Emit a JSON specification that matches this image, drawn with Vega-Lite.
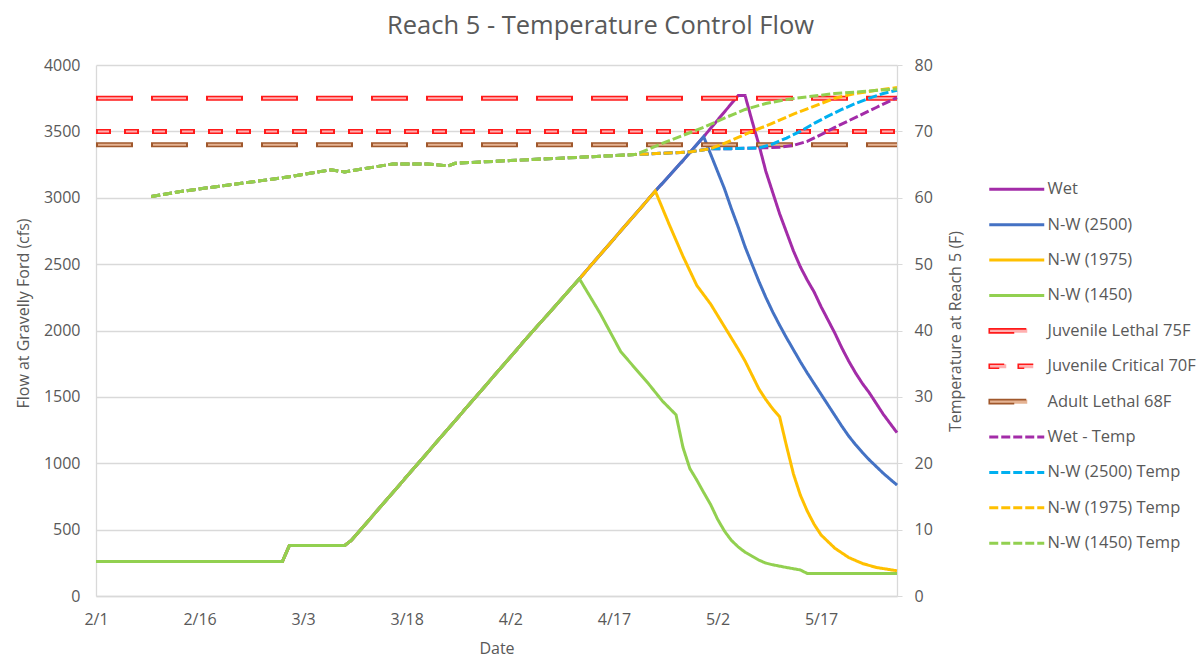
{
  "$schema": "https://vega.github.io/schema/vega-lite/v6.json",
  "width": 801,
  "height": 531,
  "autosize": {"type": "none"},
  "padding": {"left": 96, "top": 65, "right": 304, "bottom": 60},
  "title": {"text": "Reach 5 - Temperature Control Flow", "font": "Open Sans", "fontSize": 25.5, "fontWeight": "normal", "color": "#595959", "anchor": "middle", "frame": "group", "dx": 104, "offset": 18},
  "config": {
    "view": {"stroke": null},
    "axis": {"labelFont": "Open Sans", "labelFontSize": 16, "labelColor": "#595959", "titleFont": "Open Sans", "titleFontSize": 16, "titleColor": "#595959", "titleFontWeight": "normal", "domainColor": "#d9d9d9", "tickColor": "#d9d9d9", "gridColor": "#d9d9d9", "domainWidth": 1.3, "gridWidth": 1.3}
  },
  "datasets": {
    "flow": [
      {"s": "Wet", "d": "2019-02-01", "v": 260}, {"s": "Wet", "d": "2019-02-28", "v": 260}, {"s": "Wet", "d": "2019-03-01", "v": 380}, {"s": "Wet", "d": "2019-03-09", "v": 380}, {"s": "Wet", "d": "2019-03-10", "v": 420}, {"s": "Wet", "d": "2019-03-18", "v": 900}, {"s": "Wet", "d": "2019-03-28", "v": 1500}, {"s": "Wet", "d": "2019-04-04", "v": 1920}, {"s": "Wet", "d": "2019-04-12", "v": 2390}, {"s": "Wet", "d": "2019-04-17", "v": 2690}, {"s": "Wet", "d": "2019-04-23", "v": 3050}, {"s": "Wet", "d": "2019-04-27", "v": 3280}, {"s": "Wet", "d": "2019-04-30", "v": 3460}, {"s": "Wet", "d": "2019-05-05", "v": 3770}, {"s": "Wet", "d": "2019-05-06", "v": 3770}, {"s": "Wet", "d": "2019-05-07", "v": 3580}, {"s": "Wet", "d": "2019-05-08", "v": 3400}, {"s": "Wet", "d": "2019-05-09", "v": 3200}, {"s": "Wet", "d": "2019-05-10", "v": 3040}, {"s": "Wet", "d": "2019-05-11", "v": 2880}, {"s": "Wet", "d": "2019-05-12", "v": 2740}, {"s": "Wet", "d": "2019-05-13", "v": 2600}, {"s": "Wet", "d": "2019-05-14", "v": 2480}, {"s": "Wet", "d": "2019-05-15", "v": 2380}, {"s": "Wet", "d": "2019-05-16", "v": 2290}, {"s": "Wet", "d": "2019-05-17", "v": 2180}, {"s": "Wet", "d": "2019-05-18", "v": 2080}, {"s": "Wet", "d": "2019-05-19", "v": 1980}, {"s": "Wet", "d": "2019-05-20", "v": 1870}, {"s": "Wet", "d": "2019-05-21", "v": 1770}, {"s": "Wet", "d": "2019-05-22", "v": 1680}, {"s": "Wet", "d": "2019-05-23", "v": 1600}, {"s": "Wet", "d": "2019-05-24", "v": 1530}, {"s": "Wet", "d": "2019-05-25", "v": 1450}, {"s": "Wet", "d": "2019-05-26", "v": 1370}, {"s": "Wet", "d": "2019-05-27", "v": 1300}, {"s": "Wet", "d": "2019-05-28", "v": 1230},
      {"s": "N-W (2500)", "d": "2019-02-01", "v": 260}, {"s": "N-W (2500)", "d": "2019-02-28", "v": 260}, {"s": "N-W (2500)", "d": "2019-03-01", "v": 380}, {"s": "N-W (2500)", "d": "2019-03-09", "v": 380}, {"s": "N-W (2500)", "d": "2019-03-10", "v": 420}, {"s": "N-W (2500)", "d": "2019-03-18", "v": 900}, {"s": "N-W (2500)", "d": "2019-03-28", "v": 1500}, {"s": "N-W (2500)", "d": "2019-04-04", "v": 1920}, {"s": "N-W (2500)", "d": "2019-04-12", "v": 2390}, {"s": "N-W (2500)", "d": "2019-04-17", "v": 2690}, {"s": "N-W (2500)", "d": "2019-04-23", "v": 3050}, {"s": "N-W (2500)", "d": "2019-04-27", "v": 3280}, {"s": "N-W (2500)", "d": "2019-04-30", "v": 3460}, {"s": "N-W (2500)", "d": "2019-05-01", "v": 3330}, {"s": "N-W (2500)", "d": "2019-05-02", "v": 3200}, {"s": "N-W (2500)", "d": "2019-05-03", "v": 3070}, {"s": "N-W (2500)", "d": "2019-05-04", "v": 2920}, {"s": "N-W (2500)", "d": "2019-05-05", "v": 2780}, {"s": "N-W (2500)", "d": "2019-05-06", "v": 2630}, {"s": "N-W (2500)", "d": "2019-05-07", "v": 2500}, {"s": "N-W (2500)", "d": "2019-05-08", "v": 2370}, {"s": "N-W (2500)", "d": "2019-05-09", "v": 2250}, {"s": "N-W (2500)", "d": "2019-05-10", "v": 2140}, {"s": "N-W (2500)", "d": "2019-05-11", "v": 2040}, {"s": "N-W (2500)", "d": "2019-05-12", "v": 1945}, {"s": "N-W (2500)", "d": "2019-05-13", "v": 1855}, {"s": "N-W (2500)", "d": "2019-05-14", "v": 1765}, {"s": "N-W (2500)", "d": "2019-05-15", "v": 1680}, {"s": "N-W (2500)", "d": "2019-05-16", "v": 1600}, {"s": "N-W (2500)", "d": "2019-05-17", "v": 1520}, {"s": "N-W (2500)", "d": "2019-05-18", "v": 1440}, {"s": "N-W (2500)", "d": "2019-05-19", "v": 1360}, {"s": "N-W (2500)", "d": "2019-05-20", "v": 1280}, {"s": "N-W (2500)", "d": "2019-05-21", "v": 1205}, {"s": "N-W (2500)", "d": "2019-05-22", "v": 1140}, {"s": "N-W (2500)", "d": "2019-05-23", "v": 1080}, {"s": "N-W (2500)", "d": "2019-05-24", "v": 1025}, {"s": "N-W (2500)", "d": "2019-05-25", "v": 975}, {"s": "N-W (2500)", "d": "2019-05-26", "v": 925}, {"s": "N-W (2500)", "d": "2019-05-27", "v": 880}, {"s": "N-W (2500)", "d": "2019-05-28", "v": 836},
      {"s": "N-W (1975)", "d": "2019-02-01", "v": 260}, {"s": "N-W (1975)", "d": "2019-02-28", "v": 260}, {"s": "N-W (1975)", "d": "2019-03-01", "v": 380}, {"s": "N-W (1975)", "d": "2019-03-09", "v": 380}, {"s": "N-W (1975)", "d": "2019-03-10", "v": 420}, {"s": "N-W (1975)", "d": "2019-03-18", "v": 900}, {"s": "N-W (1975)", "d": "2019-03-28", "v": 1500}, {"s": "N-W (1975)", "d": "2019-04-04", "v": 1920}, {"s": "N-W (1975)", "d": "2019-04-12", "v": 2390}, {"s": "N-W (1975)", "d": "2019-04-17", "v": 2690}, {"s": "N-W (1975)", "d": "2019-04-23", "v": 3050}, {"s": "N-W (1975)", "d": "2019-04-25", "v": 2800}, {"s": "N-W (1975)", "d": "2019-04-27", "v": 2560}, {"s": "N-W (1975)", "d": "2019-04-29", "v": 2340}, {"s": "N-W (1975)", "d": "2019-05-01", "v": 2200}, {"s": "N-W (1975)", "d": "2019-05-03", "v": 2030}, {"s": "N-W (1975)", "d": "2019-05-05", "v": 1860}, {"s": "N-W (1975)", "d": "2019-05-06", "v": 1770}, {"s": "N-W (1975)", "d": "2019-05-08", "v": 1560}, {"s": "N-W (1975)", "d": "2019-05-09", "v": 1480}, {"s": "N-W (1975)", "d": "2019-05-10", "v": 1410}, {"s": "N-W (1975)", "d": "2019-05-11", "v": 1350}, {"s": "N-W (1975)", "d": "2019-05-12", "v": 1130}, {"s": "N-W (1975)", "d": "2019-05-13", "v": 920}, {"s": "N-W (1975)", "d": "2019-05-14", "v": 760}, {"s": "N-W (1975)", "d": "2019-05-15", "v": 640}, {"s": "N-W (1975)", "d": "2019-05-16", "v": 540}, {"s": "N-W (1975)", "d": "2019-05-17", "v": 460}, {"s": "N-W (1975)", "d": "2019-05-19", "v": 360}, {"s": "N-W (1975)", "d": "2019-05-21", "v": 290}, {"s": "N-W (1975)", "d": "2019-05-23", "v": 245}, {"s": "N-W (1975)", "d": "2019-05-25", "v": 215}, {"s": "N-W (1975)", "d": "2019-05-28", "v": 190},
      {"s": "N-W (1450)", "d": "2019-02-01", "v": 260}, {"s": "N-W (1450)", "d": "2019-02-28", "v": 260}, {"s": "N-W (1450)", "d": "2019-03-01", "v": 380}, {"s": "N-W (1450)", "d": "2019-03-09", "v": 380}, {"s": "N-W (1450)", "d": "2019-03-10", "v": 420}, {"s": "N-W (1450)", "d": "2019-03-18", "v": 900}, {"s": "N-W (1450)", "d": "2019-03-28", "v": 1500}, {"s": "N-W (1450)", "d": "2019-04-04", "v": 1920}, {"s": "N-W (1450)", "d": "2019-04-12", "v": 2390}, {"s": "N-W (1450)", "d": "2019-04-15", "v": 2130}, {"s": "N-W (1450)", "d": "2019-04-18", "v": 1840}, {"s": "N-W (1450)", "d": "2019-04-20", "v": 1720}, {"s": "N-W (1450)", "d": "2019-04-22", "v": 1600}, {"s": "N-W (1450)", "d": "2019-04-24", "v": 1470}, {"s": "N-W (1450)", "d": "2019-04-26", "v": 1365}, {"s": "N-W (1450)", "d": "2019-04-27", "v": 1120}, {"s": "N-W (1450)", "d": "2019-04-28", "v": 960}, {"s": "N-W (1450)", "d": "2019-04-29", "v": 874}, {"s": "N-W (1450)", "d": "2019-04-30", "v": 780}, {"s": "N-W (1450)", "d": "2019-05-01", "v": 690}, {"s": "N-W (1450)", "d": "2019-05-02", "v": 580}, {"s": "N-W (1450)", "d": "2019-05-03", "v": 490}, {"s": "N-W (1450)", "d": "2019-05-04", "v": 420}, {"s": "N-W (1450)", "d": "2019-05-05", "v": 370}, {"s": "N-W (1450)", "d": "2019-05-06", "v": 330}, {"s": "N-W (1450)", "d": "2019-05-07", "v": 300}, {"s": "N-W (1450)", "d": "2019-05-08", "v": 270}, {"s": "N-W (1450)", "d": "2019-05-09", "v": 248}, {"s": "N-W (1450)", "d": "2019-05-10", "v": 235}, {"s": "N-W (1450)", "d": "2019-05-12", "v": 215}, {"s": "N-W (1450)", "d": "2019-05-14", "v": 196}, {"s": "N-W (1450)", "d": "2019-05-15", "v": 170}, {"s": "N-W (1450)", "d": "2019-05-28", "v": 170}
    ],
    "thr": [
      {"s": "Juvenile Lethal 75F", "d": "2019-02-01", "v": 75}, {"s": "Juvenile Lethal 75F", "d": "2019-05-28", "v": 75},
      {"s": "Juvenile Critical 70F", "d": "2019-02-01", "v": 70}, {"s": "Juvenile Critical 70F", "d": "2019-05-28", "v": 70},
      {"s": "Adult Lethal 68F", "d": "2019-02-01", "v": 68}, {"s": "Adult Lethal 68F", "d": "2019-05-28", "v": 68}
    ],
    "temp": [
      {"s": "Wet - Temp", "d": "2019-02-09", "v": 60.2}, {"s": "Wet - Temp", "d": "2019-02-13", "v": 60.9}, {"s": "Wet - Temp", "d": "2019-02-20", "v": 61.9}, {"s": "Wet - Temp", "d": "2019-02-28", "v": 63.0}, {"s": "Wet - Temp", "d": "2019-03-07", "v": 64.2}, {"s": "Wet - Temp", "d": "2019-03-09", "v": 63.9}, {"s": "Wet - Temp", "d": "2019-03-12", "v": 64.4}, {"s": "Wet - Temp", "d": "2019-03-16", "v": 65.1}, {"s": "Wet - Temp", "d": "2019-03-21", "v": 65.1}, {"s": "Wet - Temp", "d": "2019-03-24", "v": 64.8}, {"s": "Wet - Temp", "d": "2019-03-25", "v": 65.2}, {"s": "Wet - Temp", "d": "2019-04-02", "v": 65.6}, {"s": "Wet - Temp", "d": "2019-04-12", "v": 66.1}, {"s": "Wet - Temp", "d": "2019-04-20", "v": 66.5}, {"s": "Wet - Temp", "d": "2019-04-24", "v": 66.7}, {"s": "Wet - Temp", "d": "2019-04-28", "v": 66.9}, {"s": "Wet - Temp", "d": "2019-05-01", "v": 67.4}, {"s": "Wet - Temp", "d": "2019-05-04", "v": 67.4}, {"s": "Wet - Temp", "d": "2019-05-08", "v": 67.5}, {"s": "Wet - Temp", "d": "2019-05-11", "v": 67.6}, {"s": "Wet - Temp", "d": "2019-05-13", "v": 67.9}, {"s": "Wet - Temp", "d": "2019-05-15", "v": 68.5}, {"s": "Wet - Temp", "d": "2019-05-17", "v": 69.5}, {"s": "Wet - Temp", "d": "2019-05-19", "v": 70.6}, {"s": "Wet - Temp", "d": "2019-05-21", "v": 71.6}, {"s": "Wet - Temp", "d": "2019-05-23", "v": 72.6}, {"s": "Wet - Temp", "d": "2019-05-25", "v": 73.6}, {"s": "Wet - Temp", "d": "2019-05-28", "v": 75.1},
      {"s": "N-W (2500) Temp", "d": "2019-02-09", "v": 60.2}, {"s": "N-W (2500) Temp", "d": "2019-02-13", "v": 60.9}, {"s": "N-W (2500) Temp", "d": "2019-02-20", "v": 61.9}, {"s": "N-W (2500) Temp", "d": "2019-02-28", "v": 63.0}, {"s": "N-W (2500) Temp", "d": "2019-03-07", "v": 64.2}, {"s": "N-W (2500) Temp", "d": "2019-03-09", "v": 63.9}, {"s": "N-W (2500) Temp", "d": "2019-03-12", "v": 64.4}, {"s": "N-W (2500) Temp", "d": "2019-03-16", "v": 65.1}, {"s": "N-W (2500) Temp", "d": "2019-03-21", "v": 65.1}, {"s": "N-W (2500) Temp", "d": "2019-03-24", "v": 64.8}, {"s": "N-W (2500) Temp", "d": "2019-03-25", "v": 65.2}, {"s": "N-W (2500) Temp", "d": "2019-04-02", "v": 65.6}, {"s": "N-W (2500) Temp", "d": "2019-04-12", "v": 66.1}, {"s": "N-W (2500) Temp", "d": "2019-04-20", "v": 66.5}, {"s": "N-W (2500) Temp", "d": "2019-04-24", "v": 66.7}, {"s": "N-W (2500) Temp", "d": "2019-04-28", "v": 66.9}, {"s": "N-W (2500) Temp", "d": "2019-05-01", "v": 67.4}, {"s": "N-W (2500) Temp", "d": "2019-05-04", "v": 67.4}, {"s": "N-W (2500) Temp", "d": "2019-05-08", "v": 67.5}, {"s": "N-W (2500) Temp", "d": "2019-05-10", "v": 68.1}, {"s": "N-W (2500) Temp", "d": "2019-05-12", "v": 69.0}, {"s": "N-W (2500) Temp", "d": "2019-05-14", "v": 70.0}, {"s": "N-W (2500) Temp", "d": "2019-05-16", "v": 71.2}, {"s": "N-W (2500) Temp", "d": "2019-05-18", "v": 72.3}, {"s": "N-W (2500) Temp", "d": "2019-05-20", "v": 73.3}, {"s": "N-W (2500) Temp", "d": "2019-05-22", "v": 74.2}, {"s": "N-W (2500) Temp", "d": "2019-05-24", "v": 75.0}, {"s": "N-W (2500) Temp", "d": "2019-05-26", "v": 75.7}, {"s": "N-W (2500) Temp", "d": "2019-05-28", "v": 76.2},
      {"s": "N-W (1975) Temp", "d": "2019-02-09", "v": 60.2}, {"s": "N-W (1975) Temp", "d": "2019-02-13", "v": 60.9}, {"s": "N-W (1975) Temp", "d": "2019-02-20", "v": 61.9}, {"s": "N-W (1975) Temp", "d": "2019-02-28", "v": 63.0}, {"s": "N-W (1975) Temp", "d": "2019-03-07", "v": 64.2}, {"s": "N-W (1975) Temp", "d": "2019-03-09", "v": 63.9}, {"s": "N-W (1975) Temp", "d": "2019-03-12", "v": 64.4}, {"s": "N-W (1975) Temp", "d": "2019-03-16", "v": 65.1}, {"s": "N-W (1975) Temp", "d": "2019-03-21", "v": 65.1}, {"s": "N-W (1975) Temp", "d": "2019-03-24", "v": 64.8}, {"s": "N-W (1975) Temp", "d": "2019-03-25", "v": 65.2}, {"s": "N-W (1975) Temp", "d": "2019-04-02", "v": 65.6}, {"s": "N-W (1975) Temp", "d": "2019-04-12", "v": 66.1}, {"s": "N-W (1975) Temp", "d": "2019-04-20", "v": 66.5}, {"s": "N-W (1975) Temp", "d": "2019-04-24", "v": 66.7}, {"s": "N-W (1975) Temp", "d": "2019-04-28", "v": 66.9}, {"s": "N-W (1975) Temp", "d": "2019-05-01", "v": 67.4}, {"s": "N-W (1975) Temp", "d": "2019-05-03", "v": 68.2}, {"s": "N-W (1975) Temp", "d": "2019-05-05", "v": 69.1}, {"s": "N-W (1975) Temp", "d": "2019-05-07", "v": 70.0}, {"s": "N-W (1975) Temp", "d": "2019-05-09", "v": 70.8}, {"s": "N-W (1975) Temp", "d": "2019-05-11", "v": 71.7}, {"s": "N-W (1975) Temp", "d": "2019-05-13", "v": 72.6}, {"s": "N-W (1975) Temp", "d": "2019-05-15", "v": 73.4}, {"s": "N-W (1975) Temp", "d": "2019-05-17", "v": 74.2}, {"s": "N-W (1975) Temp", "d": "2019-05-19", "v": 75.0}, {"s": "N-W (1975) Temp", "d": "2019-05-22", "v": 75.7}, {"s": "N-W (1975) Temp", "d": "2019-05-25", "v": 76.2}, {"s": "N-W (1975) Temp", "d": "2019-05-28", "v": 76.6},
      {"s": "N-W (1450) Temp", "d": "2019-02-09", "v": 60.2}, {"s": "N-W (1450) Temp", "d": "2019-02-13", "v": 60.9}, {"s": "N-W (1450) Temp", "d": "2019-02-20", "v": 61.9}, {"s": "N-W (1450) Temp", "d": "2019-02-28", "v": 63.0}, {"s": "N-W (1450) Temp", "d": "2019-03-07", "v": 64.2}, {"s": "N-W (1450) Temp", "d": "2019-03-09", "v": 63.9}, {"s": "N-W (1450) Temp", "d": "2019-03-12", "v": 64.4}, {"s": "N-W (1450) Temp", "d": "2019-03-16", "v": 65.1}, {"s": "N-W (1450) Temp", "d": "2019-03-21", "v": 65.1}, {"s": "N-W (1450) Temp", "d": "2019-03-24", "v": 64.8}, {"s": "N-W (1450) Temp", "d": "2019-03-25", "v": 65.2}, {"s": "N-W (1450) Temp", "d": "2019-04-02", "v": 65.6}, {"s": "N-W (1450) Temp", "d": "2019-04-12", "v": 66.1}, {"s": "N-W (1450) Temp", "d": "2019-04-20", "v": 66.5}, {"s": "N-W (1450) Temp", "d": "2019-04-22", "v": 67.3}, {"s": "N-W (1450) Temp", "d": "2019-04-24", "v": 68.2}, {"s": "N-W (1450) Temp", "d": "2019-04-27", "v": 69.4}, {"s": "N-W (1450) Temp", "d": "2019-04-30", "v": 70.6}, {"s": "N-W (1450) Temp", "d": "2019-05-03", "v": 72.0}, {"s": "N-W (1450) Temp", "d": "2019-05-06", "v": 73.3}, {"s": "N-W (1450) Temp", "d": "2019-05-09", "v": 74.2}, {"s": "N-W (1450) Temp", "d": "2019-05-12", "v": 74.8}, {"s": "N-W (1450) Temp", "d": "2019-05-15", "v": 75.2}, {"s": "N-W (1450) Temp", "d": "2019-05-19", "v": 75.7}, {"s": "N-W (1450) Temp", "d": "2019-05-23", "v": 76.0}, {"s": "N-W (1450) Temp", "d": "2019-05-28", "v": 76.4}
    ]
  },
  "encoding": {
    "x": {
      "field": "d", "type": "temporal",
      "scale": {"type": "utc", "domain": [{"year": 2019, "month": 2, "date": 1, "utc": true}, {"year": 2019, "month": 5, "date": 28, "utc": true}]},
      "axis": {
        "values": [{"year": 2019, "month": 2, "date": 1, "utc": true}, {"year": 2019, "month": 2, "date": 16, "utc": true}, {"year": 2019, "month": 3, "date": 3, "utc": true}, {"year": 2019, "month": 3, "date": 18, "utc": true}, {"year": 2019, "month": 4, "date": 2, "utc": true}, {"year": 2019, "month": 4, "date": 17, "utc": true}, {"year": 2019, "month": 5, "date": 2, "utc": true}, {"year": 2019, "month": 5, "date": 17, "utc": true}],
        "labelExpr": "utcFormat(datum.value, '%-m/%-d')",
        "labelFlush": false,
        "grid": false, "ticks": false, "labelPadding": 15, "title": "Date", "titleBaseline": "alphabetic", "titleY": 57
      }
    },
    "color": {
      "field": "s", "type": "nominal",
      "scale": {
        "domain": ["Wet", "N-W (2500)", "N-W (1975)", "N-W (1450)", "Juvenile Lethal 75F", "Juvenile Critical 70F", "Adult Lethal 68F", "Wet - Temp", "N-W (2500) Temp", "N-W (1975) Temp", "N-W (1450) Temp"],
        "range": ["#a32ca8", "#4472c4", "#ffc000", "#92d050", "#ff1a1a", "#ff1a1a", "#a0582c", "#a32ca8", "#00b0f0", "#ffc000", "#92d050"]
      },
      "legend": {
        "title": null, "orient": "none", "legendX": 895, "legendY": 116,
        "symbolType": "M-1,0H4.5", "symbolSize": 400, "symbolStrokeWidth": 3,
        "labelFont": "Open Sans", "labelFontSize": 16.5, "labelColor": "#595959", "labelLimit": 300,
        "rowPadding": 18.4, "labelOffset": 40, "padding": 0,
        "encode": {"symbols": {"update": {
          "shape": {"signal": "(datum.value === 'Juvenile Lethal 75F' || datum.value === 'Adult Lethal 68F') ? 'M-1,-0.2H2.8V0.2H-1Z' : (datum.value === 'Juvenile Critical 70F' ? 'M-1,-0.2H0.7V0.2H-1ZM1.9,-0.2H3.4V0.2H1.9Z' : 'M-1,0H4.5')"},
          "fill": {"signal": "datum.value === 'Adult Lethal 68F' ? '#e5b393' : ((datum.value === 'Juvenile Lethal 75F' || datum.value === 'Juvenile Critical 70F') ? '#ffb0b0' : 'transparent')"},
          "strokeWidth": {"signal": "indexof(['Juvenile Lethal 75F', 'Juvenile Critical 70F', 'Adult Lethal 68F'], datum.value) >= 0 ? 1.6 : 3"},
          "strokeDash": {"signal": "indexof(['Juvenile Lethal 75F', 'Juvenile Critical 70F', 'Adult Lethal 68F'], datum.value) >= 0 ? [1, 0] : scale('strokeDash', datum.value)"}
        }}}
      }
    },
    "strokeDash": {
      "field": "s", "type": "nominal",
      "scale": {
        "domain": ["Wet", "N-W (2500)", "N-W (1975)", "N-W (1450)", "Juvenile Lethal 75F", "Juvenile Critical 70F", "Adult Lethal 68F", "Wet - Temp", "N-W (2500) Temp", "N-W (1975) Temp", "N-W (1450) Temp"],
        "range": [[1, 0], [1, 0], [1, 0], [1, 0], [37, 18], [15, 13], [37, 18], [9, 3], [9, 3], [9, 3], [9, 3]]
      },
      "legend": {
        "title": null, "orient": "none", "legendX": 895, "legendY": 116,
        "symbolType": "M-1,0H4.5", "symbolSize": 400, "symbolStrokeWidth": 3,
        "labelFont": "Open Sans", "labelFontSize": 16.5, "labelColor": "#595959", "labelLimit": 300,
        "rowPadding": 18.4, "labelOffset": 40, "padding": 0,
        "encode": {"symbols": {"update": {
          "shape": {"signal": "(datum.value === 'Juvenile Lethal 75F' || datum.value === 'Adult Lethal 68F') ? 'M-1,-0.2H2.8V0.2H-1Z' : (datum.value === 'Juvenile Critical 70F' ? 'M-1,-0.2H0.7V0.2H-1ZM1.9,-0.2H3.4V0.2H1.9Z' : 'M-1,0H4.5')"},
          "fill": {"signal": "datum.value === 'Adult Lethal 68F' ? '#e5b393' : ((datum.value === 'Juvenile Lethal 75F' || datum.value === 'Juvenile Critical 70F') ? '#ffb0b0' : 'transparent')"},
          "strokeWidth": {"signal": "indexof(['Juvenile Lethal 75F', 'Juvenile Critical 70F', 'Adult Lethal 68F'], datum.value) >= 0 ? 1.6 : 3"},
          "strokeDash": {"signal": "indexof(['Juvenile Lethal 75F', 'Juvenile Critical 70F', 'Adult Lethal 68F'], datum.value) >= 0 ? [1, 0] : scale('strokeDash', datum.value)"}
        }}}
      }
    }
  },
  "layer": [
    {
      "data": {"name": "flow"},
      "encoding": {"y": {"field": "v", "type": "quantitative", "scale": {"domain": [0, 4000]}, "axis": {"orient": "left", "values": [0, 500, 1000, 1500, 2000, 2500, 3000, 3500, 4000], "format": "d", "grid": true, "ticks": false, "labelPadding": 16, "title": "Flow at Gravelly Ford (cfs)", "titleAngle": -90, "titleBaseline": "middle", "titleX": -73, "titleY": 248}}},
      "layer": [
        {"transform": [{"filter": "datum.s === 'Wet'"}], "mark": {"type": "line", "strokeWidth": 3}},
        {"transform": [{"filter": "datum.s === 'N-W (2500)'"}], "mark": {"type": "line", "strokeWidth": 3}},
        {"transform": [{"filter": "datum.s === 'N-W (1975)'"}], "mark": {"type": "line", "strokeWidth": 3}},
        {"transform": [{"filter": "datum.s === 'N-W (1450)'"}], "mark": {"type": "line", "strokeWidth": 3}}
      ]
    },
    {
      "data": {"name": "temp"},
      "encoding": {"y": {"field": "v", "type": "quantitative", "scale": {"domain": [0, 80]}, "axis": {"orient": "right", "values": [0, 10, 20, 30, 40, 50, 60, 70, 80], "grid": false, "ticks": true, "tickSize": 5, "labelPadding": 12, "title": "Temperature at Reach 5 (F)", "titleAngle": -90, "titleBaseline": "middle", "titleX": 58, "titleY": 266}}},
      "layer": [
        {"data": {"name": "thr"}, "mark": {"type": "line", "strokeWidth": 5}},
        {"data": {"name": "thr"}, "transform": [{"filter": "datum.s === 'Juvenile Lethal 75F'"}], "mark": {"type": "line", "strokeWidth": 2, "strokeDashOffset": -2}, "encoding": {"color": {"value": "#ffb0b0"}, "strokeDash": {"value": [33, 22]}}},
        {"data": {"name": "thr"}, "transform": [{"filter": "datum.s === 'Juvenile Critical 70F'"}], "mark": {"type": "line", "strokeWidth": 2, "strokeDashOffset": -2}, "encoding": {"color": {"value": "#ffb0b0"}, "strokeDash": {"value": [11, 17]}}},
        {"data": {"name": "thr"}, "transform": [{"filter": "datum.s === 'Adult Lethal 68F'"}], "mark": {"type": "line", "strokeWidth": 2, "strokeDashOffset": -2}, "encoding": {"color": {"value": "#e5b393"}, "strokeDash": {"value": [33, 22]}}},
        {"transform": [{"filter": "datum.s === 'Wet - Temp'"}], "mark": {"type": "line", "strokeWidth": 3}},
        {"transform": [{"filter": "datum.s === 'N-W (2500) Temp'"}], "mark": {"type": "line", "strokeWidth": 3}},
        {"transform": [{"filter": "datum.s === 'N-W (1975) Temp'"}], "mark": {"type": "line", "strokeWidth": 3}},
        {"transform": [{"filter": "datum.s === 'N-W (1450) Temp'"}], "mark": {"type": "line", "strokeWidth": 3}}
      ]
    }
  ],
  "resolve": {"scale": {"y": "independent"}}
}
